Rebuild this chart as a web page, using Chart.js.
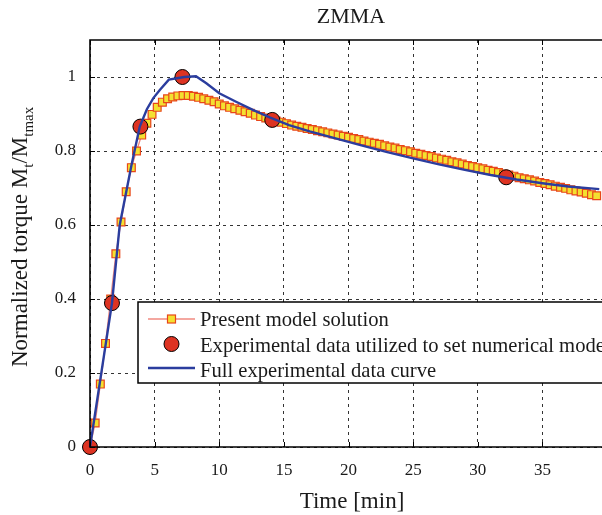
<!DOCTYPE html>
<html>
<head>
<meta charset="utf-8">
<script src="https://cdn.jsdelivr.net/npm/chart.js@4.4.1/dist/chart.umd.min.js"></script>
<style>
  html, body { margin: 0; padding: 0; background: #fff; overflow: hidden; width: 602px; height: 515px; }
  canvas { display: block; }
</style>
</head>
<body>
<canvas id="torqueChart" width="620" height="515"></canvas>
<script>
// model solution (squares), time in minutes
const modelTime = [
  0, 0.4, 0.8, 1.2, 1.6, 2.0, 2.4, 2.8, 3.2, 3.6,
  4.0, 4.4, 4.8, 5.2, 5.6, 6.0, 6.4, 6.8, 7.2, 7.6,
  8.0, 8.4, 8.8, 9.2, 9.6, 10.0, 10.4, 10.8, 11.2, 11.6,
  12.0, 12.4, 12.8, 13.2, 13.6, 14.0, 14.4, 14.8, 15.2, 15.6,
  16.0, 16.4, 16.8, 17.2, 17.6, 18.0, 18.4, 18.8, 19.2, 19.6,
  20.0, 20.4, 20.8, 21.2, 21.6, 22.0, 22.4, 22.8, 23.2, 23.6,
  24.0, 24.4, 24.8, 25.2, 25.6, 26.0, 26.4, 26.8, 27.2, 27.6,
  28.0, 28.4, 28.8, 29.2, 29.6, 30.0, 30.4, 30.8, 31.2, 31.6,
  32.0, 32.4, 32.8, 33.2, 33.6, 34.0, 34.4, 34.8, 35.2, 35.6,
  36.0, 36.4, 36.8, 37.2, 37.6, 38.0, 38.4, 38.8, 39.2
];
const modelValue = [
  0, 0.065, 0.17, 0.28, 0.40, 0.522, 0.608, 0.69, 0.755, 0.80,
  0.843, 0.875, 0.899, 0.918, 0.932, 0.941, 0.946, 0.949, 0.95, 0.95,
  0.948, 0.945, 0.941, 0.937, 0.933, 0.927, 0.922, 0.918, 0.914, 0.910,
  0.906, 0.902, 0.897, 0.893, 0.889, 0.885, 0.881, 0.878, 0.874, 0.870,
  0.867, 0.864, 0.861, 0.858, 0.855, 0.852, 0.849, 0.846, 0.843, 0.840,
  0.837, 0.834, 0.831, 0.827, 0.824, 0.821, 0.818, 0.814, 0.811, 0.808,
  0.804, 0.801, 0.798, 0.794, 0.791, 0.788, 0.785, 0.781, 0.778, 0.775,
  0.771, 0.768, 0.765, 0.761, 0.758, 0.755, 0.752, 0.748, 0.745, 0.742,
  0.738, 0.735, 0.732, 0.728, 0.725, 0.722, 0.719, 0.715, 0.712, 0.709,
  0.705, 0.702, 0.699, 0.695, 0.692, 0.689, 0.686, 0.682, 0.679
];

// experimental points used to set the model (circles)
const expTime = [0, 1.7, 3.9, 7.15, 14.1, 32.2];
const expValue = [0, 0.389, 0.866, 1.0, 0.884, 0.729];

// full experimental curve (blue)
const curveTime = [0, 1.7, 2.3, 3.2, 3.85, 4.4, 4.9, 5.4, 6.1, 7.3, 8.2, 9.0, 10.0, 11.3, 12.6, 13.9, 15.4,
  17, 19, 21, 23, 25, 27, 29, 31, 33, 35, 37, 39.4];
const curveValue = [0, 0.389, 0.6, 0.76, 0.866, 0.913, 0.943, 0.965, 0.993, 1.0, 1.002, 0.983, 0.956, 0.933, 0.911, 0.891, 0.870,
  0.853, 0.834, 0.815, 0.797, 0.780, 0.764, 0.749, 0.735, 0.723, 0.713, 0.704, 0.697];

const xTickStep = 5;
const yTicks = [0, 0.2, 0.4, 0.6, 0.8, 1];

const serif = "'Liberation Serif', 'DejaVu Serif', serif";
const ink = '#1a1a1a';
const blue = '#2b3d9e';
const salmon = '#f08a80';
const yellow = '#f4e030';
const orange = '#e8461a';
const red = '#dd3322';

function pairs(xs, ys) {
  return xs.map((x, i) => ({ x: x, y: ys[i] }));
}

// frame, inner ticks, titles and the boxed legend
const decorations = {
  id: 'decorations',
  afterDraw(chart) {
    const ctx = chart.ctx;
    const area = chart.chartArea;
    const xs = chart.scales.x;
    const ys = chart.scales.y;
    ctx.save();

    // inner tick marks
    ctx.strokeStyle = '#000';
    ctx.lineWidth = 1;
    for (let v = 0; v <= 35; v += xTickStep) {
      const px = Math.round(xs.getPixelForValue(v)) + 0.5;
      ctx.beginPath();
      ctx.moveTo(px, area.bottom);
      ctx.lineTo(px, area.bottom - 5);
      ctx.moveTo(px, area.top);
      ctx.lineTo(px, area.top + 5);
      ctx.stroke();
    }
    yTicks.forEach(v => {
      const py = Math.round(ys.getPixelForValue(v)) + 0.5;
      ctx.beginPath();
      ctx.moveTo(area.left, py);
      ctx.lineTo(area.left + 5, py);
      ctx.stroke();
    });

    // frame
    ctx.lineWidth = 1.6;
    ctx.beginPath();
    ctx.moveTo(area.right, area.top);
    ctx.lineTo(area.left, area.top);
    ctx.lineTo(area.left, area.bottom);
    ctx.lineTo(area.right, area.bottom);
    ctx.stroke();

    // chart title
    ctx.fillStyle = ink;
    ctx.font = '22px ' + serif;
    ctx.textAlign = 'center';
    ctx.textBaseline = 'alphabetic';
    ctx.fillText('ZMMA', 351, 23);

    // x axis title
    ctx.font = '23px ' + serif;
    ctx.fillText('Time [min]', 352, 508);

    // y axis title with subscripts
    ctx.save();
    ctx.translate(27, 367);
    ctx.rotate(-Math.PI / 2);
    ctx.textAlign = 'left';
    const parts = [
      ['Normalized torque M', 23, 0],
      ['t', 15, 6],
      ['/M', 23, 0],
      ['tmax', 15, 6]
    ];
    let cx = 0;
    parts.forEach(p => {
      ctx.font = p[1] + 'px ' + serif;
      ctx.fillText(p[0], cx, p[2]);
      cx += ctx.measureText(p[0]).width;
    });
    ctx.restore();

    // legend box
    const lx = 138, ly = 302, lh = 81;
    ctx.fillStyle = '#fff';
    ctx.fillRect(lx, ly, 520, lh);
    ctx.strokeStyle = '#000';
    ctx.lineWidth = 1.5;
    ctx.strokeRect(lx, ly, 520, lh);

    const s1 = 148, s2 = 195, sm = (s1 + s2) / 2;
    // row 1: model
    ctx.strokeStyle = salmon;
    ctx.lineWidth = 1.5;
    ctx.beginPath();
    ctx.moveTo(s1, 319);
    ctx.lineTo(s2, 319);
    ctx.stroke();
    ctx.fillStyle = yellow;
    ctx.fillRect(sm - 4, 315, 8, 8);
    ctx.strokeStyle = orange;
    ctx.lineWidth = 1.2;
    ctx.strokeRect(sm - 4, 315, 8, 8);
    // row 2: circle
    ctx.fillStyle = red;
    ctx.strokeStyle = '#000';
    ctx.lineWidth = 1;
    ctx.beginPath();
    ctx.arc(sm, 344, 7.5, 0, Math.PI * 2);
    ctx.fill();
    ctx.stroke();
    // row 3: blue line
    ctx.strokeStyle = blue;
    ctx.lineWidth = 2.5;
    ctx.beginPath();
    ctx.moveTo(s1, 368);
    ctx.lineTo(s2, 368);
    ctx.stroke();

    ctx.fillStyle = ink;
    ctx.font = '20.6px ' + serif;
    ctx.textAlign = 'left';
    ctx.fillText('Present model solution', 200, 326);
    ctx.fillText('Experimental data utilized to set numerical model', 200, 352);
    ctx.fillText('Full experimental data curve', 200, 377);

    ctx.restore();
  }
};

const ctx = document.getElementById('torqueChart').getContext('2d');
new Chart(ctx, {
  type: 'scatter',
  data: {
    datasets: [
      {
        label: 'Full experimental data curve',
        data: pairs(curveTime, curveValue),
        showLine: true,
        borderColor: blue,
        borderWidth: 2.4,
        pointRadius: 0,
        tension: 0,
        clip: false,
        order: 1
      },
      {
        label: 'Experimental data utilized to set numerical model',
        data: pairs(expTime, expValue),
        showLine: false,
        pointRadius: 7.5,
        pointBackgroundColor: red,
        pointBorderColor: '#000',
        pointBorderWidth: 1,
        clip: false,
        order: 2
      },
      {
        label: 'Present model solution',
        data: pairs(modelTime, modelValue),
        showLine: true,
        borderColor: salmon,
        borderWidth: 1.3,
        pointStyle: 'rect',
        pointRadius: 5.5,
        pointBackgroundColor: yellow,
        pointBorderColor: orange,
        pointBorderWidth: 1.2,
        clip: false,
        order: 3
      }
    ]
  },
  options: {
    responsive: false,
    animation: false,
    events: [],
    layout: { padding: { top: 40, right: 10, left: 0, bottom: 0 } },
    plugins: {
      legend: { display: false },
      title: { display: false },
      tooltip: { enabled: false }
    },
    scales: {
      x: {
        type: 'linear',
        min: 0,
        max: 40,
        afterFit(scale) { scale.height = 68; },
        ticks: {
          stepSize: xTickStep,
          padding: 13,
          color: ink,
          font: { family: serif, size: 17 },
          callback: v => (v > 35 ? '' : v)
        },
        grid: { color: '#333', lineWidth: 1, drawTicks: false },
        border: { display: false, dash: [3, 4] }
      },
      y: {
        min: 0,
        max: 1.1,
        afterFit(scale) { scale.width = 90; },
        ticks: {
          stepSize: 0.2,
          includeBounds: false,
          padding: 14,
          color: ink,
          font: { family: serif, size: 17 },
          callback: v => String(Number(v.toFixed(1)))
        },
        grid: { color: '#333', lineWidth: 1, drawTicks: false },
        border: { display: false, dash: [3, 4] }
      }
    }
  },
  plugins: [decorations]
});
</script>
</body>
</html>
